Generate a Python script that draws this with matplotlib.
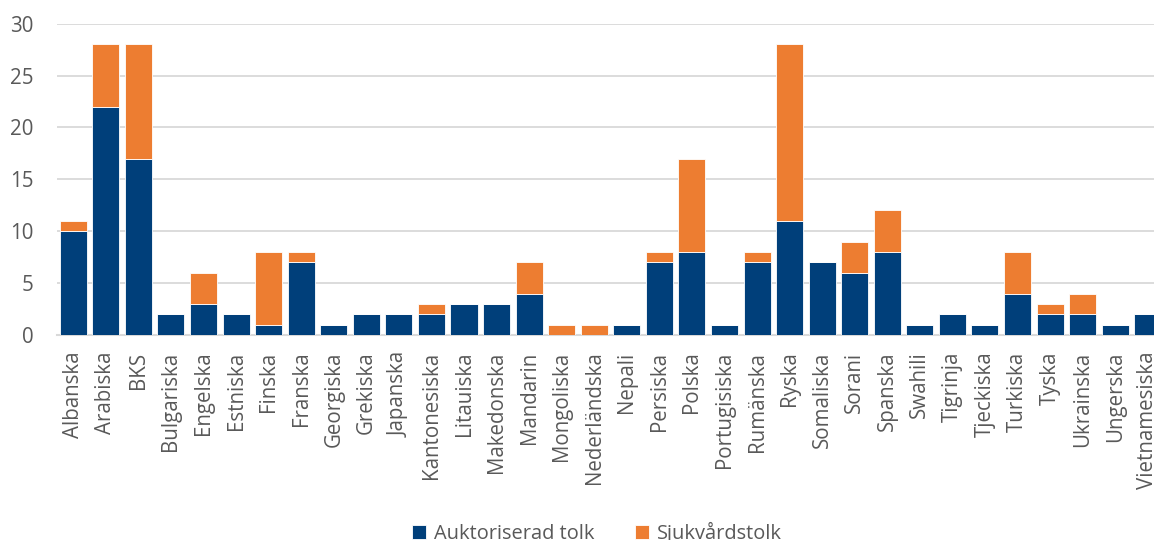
import numpy as np
import matplotlib
matplotlib.use('Agg')
import matplotlib.pyplot as plt

languages = ['Albanska', 'Arabiska', 'BKS', 'Bulgariska', 'Engelska', 'Estniska', 'Finska',
             'Franska', 'Georgiska', 'Grekiska', 'Japanska', 'Kantonesiska', 'Litauiska',
             'Makedonska', 'Mandarin', 'Mongoliska', 'Nederländska', 'Nepali', 'Persiska',
             'Polska', 'Portugisiska', 'Rumänska', 'Ryska', 'Somaliska', 'Sorani', 'Spanska',
             'Swahili', 'Tigrinja', 'Tjeckiska', 'Turkiska', 'Tyska', 'Ukrainska', 'Ungerska',
             'Vietnamesiska']
auktoriserad = [10, 22, 17, 2, 3, 2, 1, 7, 1, 2, 2, 2, 3, 3, 4, 0, 0, 1, 7, 8, 1, 7, 11, 7,
                6, 8, 1, 2, 1, 4, 2, 2, 1, 2]
sjukvard = [1, 6, 11, 0, 3, 0, 7, 1, 0, 0, 0, 1, 0, 0, 3, 1, 1, 0, 1, 9, 0, 1, 17, 0,
            3, 4, 0, 0, 0, 4, 1, 2, 0, 0]
yticks = [0, 5, 10, 15, 20, 25, 30]

plt.rcParams['font.family'] = ['Open Sans', 'DejaVu Sans']
text_col = '#595959'
navy = '#003f7a'
orange = '#ed7d31'
fs = 14.8

fig = plt.figure(figsize=(11.54, 5.4), dpi=100)
ax = fig.add_axes([0.0494, 0.3796, 0.9593, 0.5765])

x = np.arange(len(languages))
ax.bar(x, auktoriserad, width=0.83, color=navy, edgecolor='white', linewidth=0.6,
       label='Auktoriserad tolk', zorder=3)
ax.bar(x, sjukvard, width=0.83, bottom=auktoriserad, color=orange, edgecolor='white',
       linewidth=0.6, label='Sjukvårdstolk', zorder=3)

ax.set_xlim(-0.5, len(languages) - 0.5)
ax.set_ylim(0, 30)
ax.set_yticks(yticks)
ax.yaxis.grid(True, color='#d9d9d9', linewidth=1.3, zorder=0)
ax.set_axisbelow(True)
for s in ['left', 'right', 'top']:
    ax.spines[s].set_visible(False)
ax.spines['bottom'].set_color('#d9d9d9')
ax.spines['bottom'].set_linewidth(1.5)
ax.set_xticks(x)
ax.set_xticklabels(languages, rotation=90, fontsize=fs, color=text_col)
ax.tick_params(axis='x', length=0, pad=12)
ax.tick_params(axis='y', length=0, pad=17, labelsize=fs, labelcolor=text_col)

ax.legend(loc='center', bbox_to_anchor=(597 / 1154, 1 - 533 / 540), bbox_transform=fig.transFigure,
          ncol=2, frameon=False, fontsize=14.4, labelcolor=text_col, handlelength=0.7,
          handleheight=0.7, handletextpad=0.4, columnspacing=2.0, borderpad=0)

plt.savefig('out.png', dpi=100)
